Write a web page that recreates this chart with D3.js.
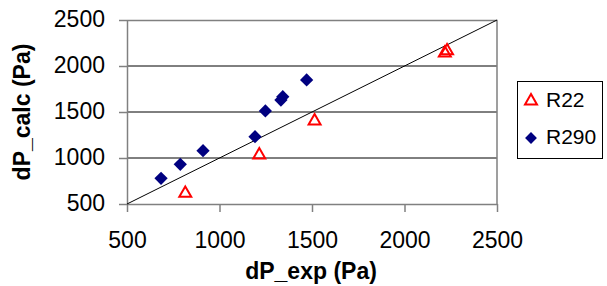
<!DOCTYPE html>
<html>
<head>
<meta charset="utf-8">
<script src="https://cdn.jsdelivr.net/npm/d3@7"></script>
<style>
  body { margin: 0; background: #fff; }
  text { font-family: "Liberation Sans", Arial, sans-serif; }
</style>
</head>
<body>
<div id="vis"></div>
<script>
const FRAME_WIDTH = 607;
const FRAME_HEIGHT = 286;
const MARGINS = {left: 127, right: 110, top: 20, bottom: 82};

// data
const r22_exp  = [815, 1215, 1514, 2218, 2230];
const r22_calc = [616, 1033, 1402, 2140, 2165];
const r290_exp  = [684, 788, 911, 1192, 1248, 1332, 1342, 1471];
const r290_calc = [779, 931, 1079, 1232, 1511, 1630, 1666, 1848];
const ticks = [500, 1000, 1500, 2000, 2500];
const seriesNames = ["R22", "R290"];

const VIS_WIDTH = FRAME_WIDTH - MARGINS.left - MARGINS.right;
const VIS_HEIGHT = FRAME_HEIGHT - MARGINS.top - MARGINS.bottom;

const svg = d3.select("#vis")
  .append("svg")
    .attr("width", FRAME_WIDTH)
    .attr("height", FRAME_HEIGHT);

const X_SCALE = d3.scaleLinear().domain([500, 2500]).range([0, VIS_WIDTH]);
const Y_SCALE = d3.scaleLinear().domain([500, 2500]).range([VIS_HEIGHT, 0]);

const g = svg.append("g")
  .attr("transform", "translate(" + MARGINS.left + "," + MARGINS.top + ")");

// gridlines
g.selectAll(".grid")
  .data(ticks.slice(1, -1))
  .enter()
  .append("line")
    .attr("x1", 0)
    .attr("x2", VIS_WIDTH)
    .attr("y1", d => Y_SCALE(d))
    .attr("y2", d => Y_SCALE(d))
    .attr("stroke", "#000")
    .attr("stroke-width", 1);

// plot border (top/right grey)
g.append("path")
  .attr("d", "M0,0.5H" + VIS_WIDTH + "V" + VIS_HEIGHT)
  .attr("fill", "none")
  .attr("stroke", "#808080")
  .attr("stroke-width", 1.5);

// axes
const fmt = d3.format("d");
const xAxis = g.append("g")
  .attr("transform", "translate(0," + VIS_HEIGHT + ")")
  .call(d3.axisBottom(X_SCALE).tickValues(ticks).tickFormat(fmt).tickSize(8).tickPadding(20).tickSizeOuter(0));
const yAxis = g.append("g")
  .call(d3.axisLeft(Y_SCALE).tickValues(ticks).tickFormat(fmt).tickSize(8).tickPadding(14).tickSizeOuter(0));

[xAxis, yAxis].forEach(ax => {
  ax.attr("font-size", null).attr("font-family", null);
  ax.select(".domain").attr("stroke", "#808080").attr("stroke-width", 1.5);
  ax.selectAll(".tick line").attr("stroke", "#808080").attr("stroke-width", 1.5);
  ax.selectAll("text")
    .style("font-size", "23px")
    .attr("fill", "#000");
});
yAxis.selectAll(".tick text").attr("dy", "0.3em");

// 1:1 line
g.append("line")
  .attr("x1", X_SCALE(500)).attr("y1", Y_SCALE(500))
  .attr("x2", X_SCALE(2500)).attr("y2", Y_SCALE(2500))
  .attr("stroke", "#000")
  .attr("stroke-width", 1);

const diamond = d3.symbol().type(d3.symbolSquare).size(88);
const triangle = d3.symbol().type(d3.symbolTriangle).size(62);

// R290 diamonds
g.selectAll(".r290")
  .data(r290_exp.map((d, i) => [d, r290_calc[i]]))
  .enter()
  .append("path")
    .attr("d", diamond)
    .attr("transform", d => "translate(" + X_SCALE(d[0]) + "," + Y_SCALE(d[1]) + ") rotate(45)")
    .attr("fill", "#000080");

// R22 triangles
g.selectAll(".r22")
  .data(r22_exp.map((d, i) => [d, r22_calc[i]]))
  .enter()
  .append("path")
    .attr("d", triangle)
    .attr("transform", d => "translate(" + X_SCALE(d[0]) + "," + Y_SCALE(d[1]) + ")")
    .attr("fill", "none")
    .attr("stroke", "#ff0000")
    .attr("stroke-width", 2);

// axis titles
svg.append("text")
  .attr("x", 311)
  .attr("y", 279)
  .attr("text-anchor", "middle")
  .style("font-size", "23px")
  .attr("font-weight", "bold")
  .text("dP_exp (Pa)");

svg.append("text")
  .attr("transform", "translate(30,112) rotate(-90)")
  .attr("text-anchor", "middle")
  .style("font-size", "23px")
  .attr("font-weight", "bold")
  .text("dP_calc (Pa)");

// legend
const legend = svg.append("g").attr("transform", "translate(517,81)");
legend.append("rect")
  .attr("x", 0.5).attr("y", 0.5)
  .attr("width", 85).attr("height", 77)
  .attr("fill", "#fff")
  .attr("stroke", "#000")
  .attr("stroke-width", 1);

legend.append("path")
  .attr("d", triangle)
  .attr("transform", "translate(14,20)")
  .attr("fill", "none")
  .attr("stroke", "#ff0000")
  .attr("stroke-width", 2);
legend.append("path")
  .attr("d", d3.symbol().type(d3.symbolSquare).size(70))
  .attr("transform", "translate(14,57) rotate(45)")
  .attr("fill", "#000080");

legend.selectAll(".lt")
  .data(seriesNames)
  .enter()
  .append("text")
    .attr("x", 29)
    .attr("y", (d, i) => 26 + i * 37)
    .style("font-size", "21px")
    .text(d => d);
</script>
</body>
</html>
